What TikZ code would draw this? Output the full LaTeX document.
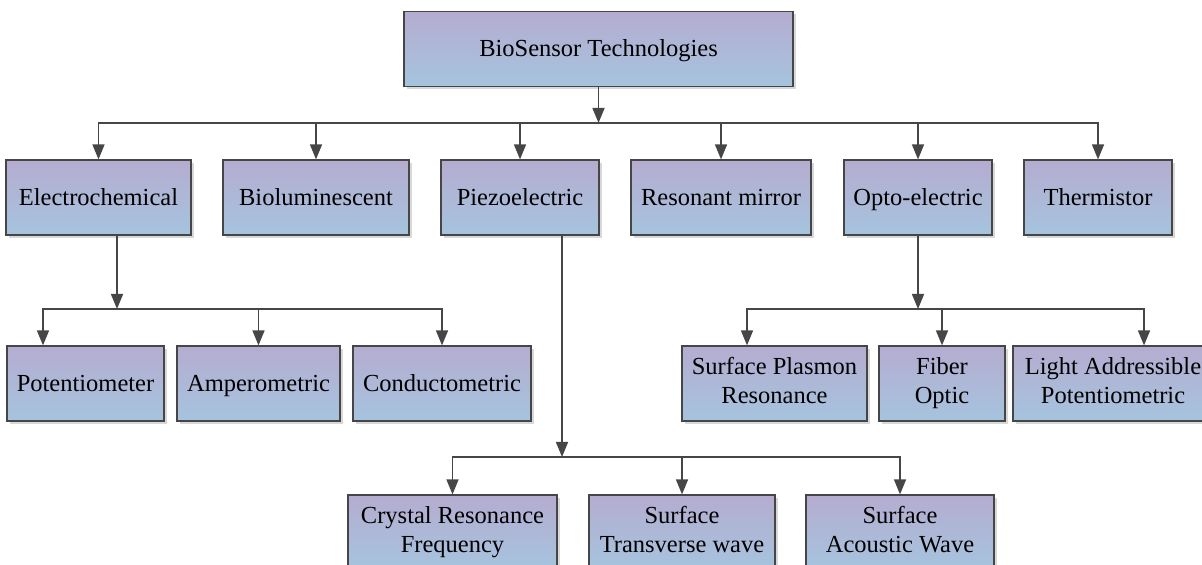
\documentclass[tikz,border=0pt]{standalone}
\usepackage{fontspec}
\setmainfont{Liberation Serif}
\usepackage{tikz}
\usetikzlibrary{arrows.meta,shadows}
\definecolor{boxtop}{RGB}{181,172,208}
\definecolor{boxbot}{RGB}{165,196,222}
\definecolor{edgegray}{RGB}{70,70,70}

\begin{document}
\begin{tikzpicture}[
  x=0.5pt, y=-0.5pt,
  font=\fontsize{12.25pt}{14.5pt}\selectfont,
  cell/.style={draw=edgegray, line width=0.6pt, top color=boxtop, bottom color=boxbot,
    minimum height=37.5pt, inner sep=0pt, align=center,
    drop shadow={shadow xshift=1.5pt, shadow yshift=-1.5pt, fill=black!30, opacity=0.5}},
  oneline/.style={text height=10pt, text depth=2pt},
  twoline/.style={text depth=3pt},
  arr/.style={-{Triangle[length=7.5pt, width=6pt]}, draw=edgegray, line width=0.75pt}
]
\clip (0,0) rectangle (1202,565);
% top
\node[cell, oneline, minimum width=194.5pt] (root) at (598.5,49) {BioSensor Technologies};
% second row
\node[cell, oneline, minimum width=92.5pt] (elec) at (98.5,197.5) {Electrochemical};
\node[cell, oneline, minimum width=93pt] (biolum) at (316,197.5) {Bioluminescent};
\node[cell, oneline, minimum width=79pt] (piezo) at (520,197.5) {Piezoelectric};
\node[cell, oneline, minimum width=90pt] (resmir) at (721,197.5) {Resonant mirror};
\node[cell, oneline, minimum width=74pt] (opto) at (918,197.5) {Opto-electric};
\node[cell, oneline, minimum width=74pt] (therm) at (1098,197.5) {Thermistor};
% third row
\node[cell, oneline, minimum width=78.5pt] (pot) at (85.5,383.5) {Potentiometer};
\node[cell, oneline, minimum width=81.5pt] (amp) at (258.5,383.5) {Amperometric};
\node[cell, oneline, minimum width=89pt] (cond) at (442,383.5) {Conductometric};
\node[cell, twoline, minimum width=92.5pt] (spr) at (774.5,383.5) {Surface Plasmon\\Resonance};
\node[cell, twoline, minimum width=63pt] (fiber) at (942,383.5) {Fiber\\Optic};
\node[cell, twoline, minimum width=100pt] (lapt) at (1113,383.5) {Light Addressible\\Potentiometric};
% bottom row
\node[cell, twoline, minimum width=104.5pt] (crf) at (452.5,532.5) {Crystal Resonance\\Frequency};
\node[cell, twoline, minimum width=93pt] (stw) at (682,532.5) {Surface\\Transverse wave};
\node[cell, twoline, minimum width=94pt] (saw) at (900,532.5) {Surface\\Acoustic Wave};

% bus points
\coordinate (bus1) at (598.5,123);
\coordinate (bus2) at (117,309);
\coordinate (bus3) at (918,309);
\coordinate (bus4) at (562,457);

\draw[arr] (root.south) -- (bus1);
\foreach \n in {elec,biolum,piezo,resmir,opto,therm}
  \draw[arr] (bus1) -| (\n.north);

\draw[arr] ([xshift=9.25pt]elec.south) -- (bus2);
\draw[arr] (bus2) -| ([xshift=-21.25pt]pot.north);
\draw[arr] (bus2) -| (amp.north);
\draw[arr] (bus2) -| (cond.north);

\draw[arr] (opto.south) -- (bus3);
\draw[arr] (bus3) -| ([xshift=-13.75pt]spr.north);
\draw[arr] (bus3) -| (fiber.north);
\draw[arr] (bus3) -| ([xshift=15.5pt]lapt.north);

\draw[arr] ([xshift=21pt]piezo.south) -- (bus4);
\draw[arr] (bus4) -| (crf.north);
\draw[arr] (bus4) -| (stw.north);
\draw[arr] (bus4) -| (saw.north);
\end{tikzpicture}
\end{document}
